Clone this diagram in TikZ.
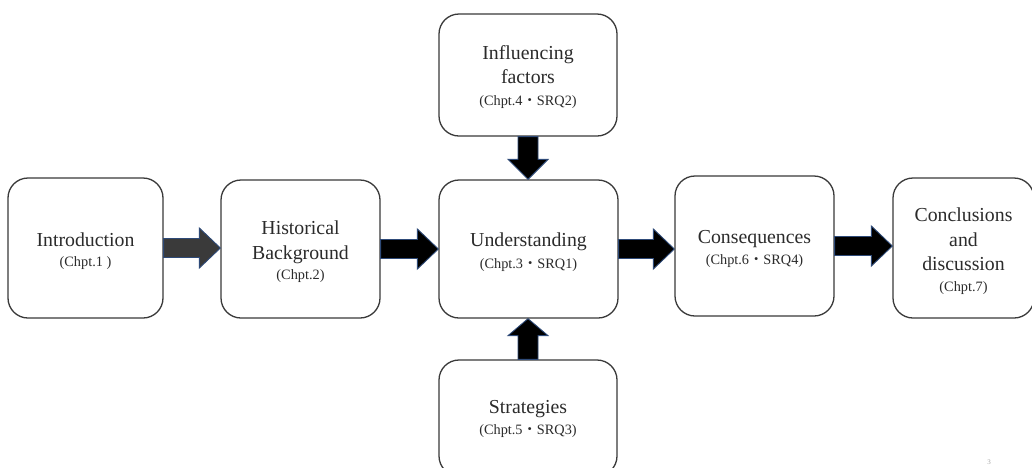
\documentclass[tikz,border=0pt]{standalone}
\usepackage{fontspec}
\setmainfont{Liberation Serif}
\newfontfamily\cjk{Noto Sans CJK JP}
\usetikzlibrary{calc}
\definecolor{boxline}{HTML}{3A3A3A}
\definecolor{txt}{HTML}{2B2B2B}
\definecolor{arrline}{HTML}{2E4A78}
\definecolor{arrgray}{HTML}{3A3A3A}
\newcommand{\subf}{\fontsize{14.3}{16}\selectfont}
\newcommand{\mdot}{{\cjk ・}}
\newcommand{\harrow}[3]{%
  \filldraw[blockarr, fill=#3] let \p1=(#1.east), \p2=(#2.west) in
  (\x1,\y1+9.5pt) -- (\x2-21pt,\y1+9.5pt) -- (\x2-21pt,\y1+20pt) -- (\x2,\y1)
  -- (\x2-21pt,\y1-20pt) -- (\x2-21pt,\y1-9.5pt) -- (\x1,\y1-9.5pt) -- cycle;}
\newcommand{\darrow}[2]{%
  \filldraw[blockarr, fill=black] let \p1=(#1.south), \p2=(#2.north) in
  (\x1-10pt,\y1) -- (\x1-10pt,\y2+20pt) -- (\x1-20pt,\y2+20pt) -- (\x1,\y2)
  -- (\x1+20pt,\y2+20pt) -- (\x1+10pt,\y2+20pt) -- (\x1+10pt,\y1) -- cycle;}
\newcommand{\uarrow}[2]{%
  \filldraw[blockarr, fill=black] let \p1=(#1.north), \p2=(#2.south) in
  (\x1-10pt,\y1) -- (\x1-10pt,\y2-17pt) -- (\x1-20pt,\y2-17pt) -- (\x1,\y2)
  -- (\x1+20pt,\y2-17pt) -- (\x1+10pt,\y2-17pt) -- (\x1+10pt,\y1) -- cycle;}
\tikzset{
  box/.style={draw=boxline, line width=1.3pt, rounded corners=20pt, fill=white, inner sep=0pt},
  boxtext/.style={align=center, text=txt, inner sep=0pt, font=\fontsize{19.8}{24.5}\selectfont},
  blockarr/.style={draw=arrline, line width=0.9pt, line join=miter},
}
\begin{document}
\begin{tikzpicture}[x=1pt,y=-1pt]
\clip (0,0) rectangle (1032,467);
\fill[white] (0,0) rectangle (1032,467);
\node[box, minimum width=155pt, minimum height=140pt] (intro) at (85.5,248) {};
\node[boxtext] (introt) at ([yshift=-3pt]intro.center)
  {Introduction\\[-4.5pt]{\subf (Chpt.1 )}};
\node[box, minimum width=159pt, minimum height=138pt] (hist) at (300.5,249) {};
\node[boxtext] (histt) at ([yshift=-3pt]hist.center)
  {Historical\\Background\\[-4pt]{\subf (Chpt.2)}};
\node[box, minimum width=179pt, minimum height=138pt] (und) at (528.5,249) {};
\node[boxtext] (undt) at ([yshift=-3pt]und.center)
  {Understanding\\[-3pt]{\subf (Chpt.3\mdot SRQ1)}};
\node[box, minimum width=178pt, minimum height=122pt] (inf) at (528,75) {};
\node[boxtext] (inft) at ([yshift=-2pt]inf.center)
  {Influencing\\factors\\[-3pt]{\subf (Chpt.4\mdot SRQ2)}};
\node[box, minimum width=178pt, minimum height=116pt] (str) at (528,418) {};
\node[boxtext] (strt) at ([yshift=-1pt]str.center)
  {Strategies\\[-3pt]{\subf (Chpt.5\mdot SRQ3)}};
\node[box, minimum width=159pt, minimum height=140pt] (cons) at (754.5,246) {};
\node[boxtext] (const) at ([yshift=-3pt]cons.center)
  {Consequences\\[-3pt]{\subf (Chpt.6\mdot SRQ4)}};
\node[box, minimum width=141pt, minimum height=140pt] (conc) at (963.5,248) {};
\node[boxtext] (conct) at ([yshift=-3pt]conc.center)
  {Conclusions\\and\\discussion\\[-4pt]{\subf (Chpt.7)}};
\harrow{intro}{hist}{arrgray}
\harrow{hist}{und}{black}
\harrow{und}{cons}{black}
\harrow{cons}{conc}{black}
\darrow{inf}{und}
\uarrow{str}{und}
\node[text=black!35, font=\fontsize{7}{8}\selectfont] (pagenum) at (989,462) {3};
\end{tikzpicture}
\end{document}
